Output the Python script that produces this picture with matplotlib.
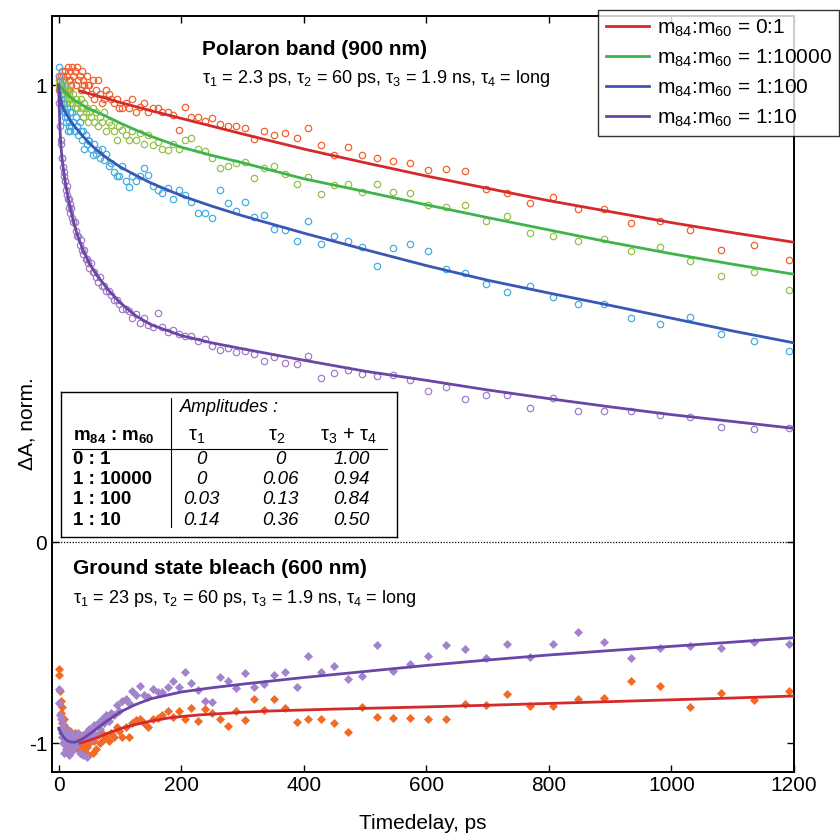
import numpy as np
import matplotlib
matplotlib.use('Agg')
import matplotlib.pyplot as plt

plt.rcParams['font.family'] = ['Liberation Sans', 'DejaVu Sans']
plt.rcParams['mathtext.fontset'] = 'custom'
plt.rcParams['mathtext.rm'] = 'Liberation Sans'
plt.rcParams['mathtext.it'] = 'Liberation Sans:italic'
plt.rcParams['mathtext.bf'] = 'Liberation Sans:bold'
plt.rcParams['axes.unicode_minus'] = False

# ---------------- data ----------------
ratios = ['0:1', '1:10000', '1:100', '1:10']

time_ps = [
    0, 1, 2, 3, 4, 5, 6, 7, 8, 9, 10,
    11, 12, 13, 14, 15, 16, 17, 18, 19, 20,
    22, 24, 26, 28, 30, 32, 34, 36, 38, 40, 42, 44, 46, 48,
    50.0, 52.5, 55.1, 57.9, 60.8, 63.8, 67.0, 70.4, 73.9, 77.6,
    81.4, 85.5, 89.8, 94.3, 99.0, 103.9, 109.1, 114.6, 120.3, 126.4,
    132.7, 139.3, 146.3, 153.6, 161.3, 169.3, 177.8, 186.7, 196.0, 205.8,
    216.1, 226.9, 238.3, 250.2, 262.7, 275.8, 289.6, 304.1, 319.3, 335.3,
    352.0, 369.6, 388.1, 407.5, 427.9, 449.3, 471.8, 495.4, 520.1, 546.1,
    573.4, 602.1, 632.2, 663.8, 697.0, 731.8, 768.4, 806.9, 847.2, 889.6,
    934.0, 980.7, 1029.8, 1081.3, 1135.3, 1192.1]

# Polaron band (900 nm) data points
pol_0_1 = [
    1.00, 0.99, 1.01, 1.02, 0.99, 1.03, 1.00, 1.02, 0.98, 1.01, 1.00,
    1.03, 1.00, 0.99, 1.02, 1.04, 1.01, 0.99, 1.03, 1.01, 1.00,
    1.04, 1.02, 1.03, 1.00, 1.04, 1.01, 1.02, 0.99, 1.03, 1.01, 1.00, 0.99, 1.02, 1.00,
    1.00, 0.98, 1.01, 0.97, 0.99, 1.01, 0.98, 0.96, 0.97, 0.99,
    0.98, 0.97, 0.96, 0.97, 0.95, 0.95, 0.96, 0.95, 0.97, 0.94,
    0.953, 0.961, 0.940, 0.950, 0.950, 0.940, 0.942, 0.935, 0.902, 0.952,
    0.930, 0.930, 0.922, 0.928, 0.915, 0.910, 0.910, 0.907, 0.882, 0.900,
    0.891, 0.896, 0.884, 0.907, 0.868, 0.847, 0.864, 0.847, 0.840, 0.834,
    0.829, 0.814, 0.816, 0.811, 0.773, 0.764, 0.743, 0.755, 0.729, 0.729,
    0.698, 0.702, 0.683, 0.640, 0.649, 0.618]
pol_1_10000 = [
    1.00, 1.01, 0.99, 1.00, 0.98, 1.01, 0.99, 0.97, 1.00, 0.98, 0.99,
    0.97, 1.00, 0.98, 0.96, 0.99, 0.97, 0.98, 0.96, 0.99, 0.97,
    0.96, 0.98, 0.95, 0.97, 0.95, 0.96, 0.94, 0.97, 0.95, 0.93, 0.96, 0.94, 0.95, 0.92,
    0.94, 0.93, 0.95, 0.92, 0.94, 0.91, 0.93, 0.92, 0.94, 0.90,
    0.92, 0.913, 0.90, 0.88, 0.91, 0.902, 0.89, 0.88, 0.90, 0.88,
    0.895, 0.87, 0.89, 0.869, 0.875, 0.86, 0.858, 0.87, 0.86, 0.88,
    0.884, 0.86, 0.855, 0.84, 0.818, 0.822, 0.829, 0.831, 0.796, 0.818,
    0.823, 0.805, 0.784, 0.799, 0.761, 0.782, 0.784, 0.767, 0.783, 0.765,
    0.764, 0.738, 0.733, 0.738, 0.702, 0.714, 0.677, 0.669, 0.658, 0.663,
    0.638, 0.645, 0.616, 0.583, 0.590, 0.552]
pol_1_100 = [
    1.04, 1.02, 0.99, 1.00, 0.97, 0.98, 0.95, 0.96, 0.94, 0.95, 0.93,
    0.94, 0.92, 0.95, 0.93, 0.90, 0.92, 0.91, 0.94, 0.90, 0.91,
    0.94, 0.92, 0.90, 0.93, 0.91, 0.89, 0.92, 0.90, 0.88, 0.90, 0.86, 0.89, 0.87, 0.88,
    0.877, 0.86, 0.848, 0.87, 0.85, 0.858, 0.84, 0.86, 0.837, 0.85,
    0.822, 0.83, 0.81, 0.80, 0.800, 0.822, 0.79, 0.778, 0.80, 0.79,
    0.80, 0.818, 0.804, 0.78, 0.77, 0.764, 0.775, 0.751, 0.77, 0.760,
    0.745, 0.72, 0.72, 0.709, 0.771, 0.743, 0.725, 0.745, 0.711, 0.715,
    0.685, 0.682, 0.658, 0.702, 0.653, 0.670, 0.659, 0.645, 0.605, 0.643,
    0.653, 0.637, 0.597, 0.589, 0.565, 0.548, 0.561, 0.536, 0.522, 0.520,
    0.491, 0.478, 0.493, 0.456, 0.440, 0.419]
pol_1_10 = [
    1.02, 0.96, 0.91, 0.88, 0.87, 0.84, 0.84, 0.82, 0.81, 0.80, 0.79,
    0.79, 0.77, 0.78, 0.76, 0.75, 0.75, 0.73, 0.74, 0.72, 0.73,
    0.71, 0.70, 0.70, 0.68, 0.67, 0.67, 0.65, 0.66, 0.64, 0.63, 0.64, 0.62, 0.62, 0.61,
    0.60, 0.61, 0.59, 0.59, 0.58, 0.57, 0.58, 0.56, 0.56, 0.55,
    0.55, 0.54, 0.53, 0.53, 0.52, 0.51, 0.51, 0.505, 0.49, 0.50,
    0.48, 0.49, 0.475, 0.47, 0.501, 0.47, 0.46, 0.465, 0.455, 0.45,
    0.45, 0.44, 0.445, 0.43, 0.421, 0.425, 0.417, 0.419, 0.412, 0.397,
    0.406, 0.393, 0.390, 0.408, 0.360, 0.370, 0.377, 0.368, 0.364, 0.366,
    0.354, 0.330, 0.340, 0.314, 0.321, 0.323, 0.294, 0.315, 0.286, 0.286,
    0.286, 0.278, 0.274, 0.252, 0.247, 0.249]

# Ground state bleach (600 nm) data points
gsb_0_1 = [
    -0.63, -0.66, -0.74, -0.79, -0.85, -0.82, -0.90, -0.93, -0.88, -0.95, -0.92,
    -0.97, -0.94, -0.99, -0.96, -1.02, -0.95, -0.98, -1.00, -0.94, -0.97,
    -0.96, -1.00, -0.95, -1.02, -0.97, -1.03, -0.98, -1.05, -1.01, -0.96, -1.04, -0.99, -1.02, -1.06,
    -1.00, -0.97, -1.05, -0.99, -1.03, -0.96, -1.00, -0.95, -0.98, -0.97,
    -0.99, -0.95, -0.97, -0.92, -0.94, -0.97, -0.92, -0.97, -0.90, -0.884,
    -0.881, -0.90, -0.917, -0.88, -0.876, -0.86, -0.838, -0.87, -0.838, -0.881,
    -0.826, -0.887, -0.831, -0.848, -0.881, -0.914, -0.838, -0.884, -0.780, -0.834,
    -0.780, -0.826, -0.892, -0.879, -0.879, -0.897, -0.946, -0.818, -0.867, -0.872,
    -0.876, -0.881, -0.881, -0.805, -0.810, -0.755, -0.813, -0.815, -0.778, -0.776,
    -0.690, -0.716, -0.818, -0.748, -0.785, -0.740]
gsb_1_10 = [
    -0.73, -0.80, -0.86, -0.93, -0.88, -0.97, -0.95, -1.00, -0.91, -1.05, -0.96,
    -0.99, -1.03, -0.96, -1.01, -0.94, -0.98, -1.06, -0.97, -1.00, -0.95,
    -1.04, -0.98, -1.02, -0.96, -1.00, -0.95, -1.05, -0.99, -0.97, -1.06, -0.98, -0.95, -1.07, -0.96,
    -0.93, -0.98, -0.95, -0.91, -0.96, -0.90, -0.93, -0.88, -0.90, -0.86,
    -0.89, -0.85, -0.86, -0.81, -0.84, -0.79, -0.78, -0.80, -0.74, -0.76,
    -0.713, -0.76, -0.768, -0.73, -0.747, -0.747, -0.72, -0.69, -0.718, -0.644,
    -0.70, -0.735, -0.788, -0.793, -0.672, -0.69, -0.726, -0.652, -0.721, -0.706,
    -0.660, -0.647, -0.721, -0.566, -0.647, -0.615, -0.682, -0.665, -0.511, -0.639,
    -0.607, -0.566, -0.511, -0.531, -0.577, -0.508, -0.572, -0.508, -0.445, -0.498,
    -0.577, -0.524, -0.516, -0.524, -0.498, -0.506]

# fitted curves
fit_t = [0, 1, 2, 3, 4, 5, 6, 8, 10, 12, 15, 20, 25, 30, 40, 50, 60, 80, 100,
         125, 150, 200, 250, 300, 400, 500, 600, 700, 800, 900, 1000, 1100, 1200]
fit_red_t = [35, 50, 75, 100, 150, 200, 300, 400, 500, 600, 700, 800, 900,
             1000, 1100, 1200]
fit_pol_0_1 = [0.987, 0.981, 0.972, 0.962, 0.944, 0.927, 0.893, 0.860, 0.830,
               0.801, 0.774, 0.747, 0.723, 0.699, 0.677, 0.656]
fit_pol_1_10000 = [1.0, 0.999, 0.998, 0.996, 0.995, 0.993, 0.992, 0.989, 0.986,
                   0.983, 0.979, 0.972, 0.967, 0.963, 0.955, 0.948, 0.942, 0.930,
                   0.917, 0.902, 0.888, 0.864, 0.846, 0.830, 0.795, 0.767, 0.738,
                   0.710, 0.683, 0.656, 0.631, 0.608, 0.586]
fit_pol_1_100 = [1.0, 0.988, 0.977, 0.969, 0.963, 0.958, 0.954, 0.947, 0.942,
                 0.937, 0.931, 0.920, 0.911, 0.903, 0.887, 0.873, 0.860, 0.839,
                 0.821, 0.803, 0.786, 0.758, 0.735, 0.714, 0.676, 0.640, 0.605,
                 0.573, 0.545, 0.518, 0.490, 0.462, 0.436]
fit_pol_1_10 = [1.0, 0.945, 0.905, 0.878, 0.860, 0.845, 0.833, 0.812, 0.793,
                0.777, 0.756, 0.724, 0.697, 0.674, 0.637, 0.610, 0.588, 0.553,
                0.524, 0.496, 0.476, 0.452, 0.436, 0.423, 0.398, 0.374, 0.354,
                0.333, 0.314, 0.296, 0.279, 0.264, 0.249]
fit_gsb_red_t = [35, 50, 67, 80, 100, 122, 150, 176, 200, 230, 300, 340, 450,
                 590, 700, 800, 900, 1000, 1100, 1200]
fit_gsb_0_1 = [-1.0, -0.985, -0.967, -0.950, -0.928, -0.909, -0.890, -0.876,
               -0.867, -0.859, -0.846, -0.840, -0.830, -0.820, -0.811, -0.802,
               -0.793, -0.784, -0.775, -0.765]
fit_gsb_1_10 = [-0.925, -0.932, -0.939, -0.945, -0.951, -0.956, -0.961, -0.970,
                -0.977, -0.983, -0.989, -0.994, -0.995, -0.991, -0.976, -0.955,
                -0.932, -0.886, -0.845, -0.808, -0.779, -0.745, -0.724, -0.706,
                -0.673, -0.643, -0.613, -0.586, -0.561, -0.539, -0.518, -0.497,
                -0.475]

# amplitude table
table_ratios = ['0 : 1', '1 : 10000', '1 : 100', '1 : 10']
amp_tau1 = ['0', '0', '0.03', '0.14']
amp_tau2 = ['0', '0.06', '0.13', '0.36']
amp_tau34 = ['1.00', '0.94', '0.84', '0.50']

x_ticks = [0, 200, 400, 600, 800, 1000, 1200]
y_ticks = [-1, 0, 1]

# ---------------- styling ----------------
fit_colors = ['#d52a2c', '#3fb44b', '#3857b6', '#6a46a6']
pt_colors = ['#f2612e', '#93c247', '#45aee2', '#a27cc6']
gsb_pt_colors = ['#f26a24', '#a283cc']

K = 201.0 / 457.0


def fwd(y):
    y = np.asarray(y, dtype=float)
    return np.where(y >= 0, y, y * K)


def inv(y):
    y = np.asarray(y, dtype=float)
    return np.where(y >= 0, y, y / K)


fig = plt.figure(figsize=(8.4, 8.38), dpi=100)
ax = fig.add_axes([52 / 840, 1 - 772 / 838, 742 / 840, 756 / 838])
ax.set_yscale('function', functions=(fwd, inv))

t = np.array(time_ps)
for vals, c in zip([pol_0_1, pol_1_10000, pol_1_100, pol_1_10], pt_colors):
    ax.plot(t, vals, 'o', mfc='none', mec=c, ms=4.6, mew=0.9, zorder=2)
for vals, c in zip([gsb_0_1, gsb_1_10], gsb_pt_colors):
    ax.plot(t, vals, 'D', mfc=c, mec=c, ms=3.8, mew=0.5, zorder=2)

l1, = ax.plot(fit_red_t, fit_pol_0_1, color=fit_colors[0], lw=2.0, zorder=3)
l2, = ax.plot(fit_t, fit_pol_1_10000, color=fit_colors[1], lw=2.0, zorder=3)
l3, = ax.plot(fit_t, fit_pol_1_100, color=fit_colors[2], lw=2.0, zorder=3)
l4, = ax.plot(fit_t, fit_pol_1_10, color=fit_colors[3], lw=2.0, zorder=3)
ax.plot(fit_gsb_red_t, fit_gsb_0_1, color=fit_colors[0], lw=2.0, zorder=3)
ax.plot(fit_t, fit_gsb_1_10, color=fit_colors[3], lw=2.0, zorder=3)

ax.axhline(0, color='k', lw=0.9, ls=(0, (1, 1.3)), zorder=1)

ax.set_xlim(-11, 1200)
ax.set_ylim(-1.143, 1.151)
ax.set_xticks(x_ticks)
ax.set_xticklabels([str(v) for v in x_ticks])
ax.set_yticks(y_ticks)
ax.set_yticklabels([str(v) for v in y_ticks])
ax.minorticks_off()
ax.tick_params(direction='in', top=True, right=True, length=5, width=1.0,
               labelsize=15)
ax.tick_params(axis='x', pad=3)
ax.tick_params(axis='y', pad=3.5)
for s in ax.spines.values():
    s.set_linewidth(1.4)

ax.set_xlabel('Timedelay, ps', fontsize=15)
ax.xaxis.set_label_coords(0.5, -0.056)
ax.set_ylabel('ΔA, norm.', fontsize=15)
ax.yaxis.set_label_coords(-0.021, 0.461)

ax.text(0.2017, 0.948, 'Polaron band (900 nm)', transform=ax.transAxes,
        fontsize=15, fontweight='bold', va='baseline', ha='left')
ax.text(0.2017, 0.911,
        'τ$_1$ = 2.3 ps, τ$_2$ = 60 ps, τ$_3$ = 1.9 ns, τ$_4$ = long',
        transform=ax.transAxes, fontsize=13, va='baseline', ha='left')
ax.text(0.0279, 0.262, 'Ground state bleach (600 nm)', transform=ax.transAxes,
        fontsize=15, fontweight='bold', va='baseline', ha='left')
ax.text(0.0279, 0.223,
        'τ$_1$ = 23 ps, τ$_2$ = 60 ps, τ$_3$ = 1.9 ns, τ$_4$ = long',
        transform=ax.transAxes, fontsize=13, va='baseline', ha='left')

# legend
labels = ['m$_{84}$:m$_{60}$ = ' + r for r in ratios]
leg = fig.legend([l1, l2, l3, l4], labels, loc='upper right',
                 bbox_to_anchor=(839 / 840, 1 - 10 / 838),
                 bbox_transform=fig.transFigure, frameon=True, fancybox=False,
                 edgecolor='k', fontsize=15, handlelength=2.1,
                 handletextpad=0.35, labelspacing=0.42, borderpad=0.35,
                 borderaxespad=0)
leg.get_frame().set_linewidth(1.0)
leg.set_zorder(10)

# amplitude table inset
tab = ax.inset_axes([0.0121, 0.3112, 0.4528, 0.1918])
tab.set_xlim(0, 1)
tab.set_ylim(0, 1)
tab.set_xticks([])
tab.set_yticks([])
tab.set_facecolor('white')
for s in tab.spines.values():
    s.set_linewidth(1.0)
tab.axvline(0.3265, ymin=0.067, ymax=0.957, color='k', lw=0.8)
tab.axhline(0.605, xmin=0.032, xmax=0.969, color='k', lw=0.8)
tab.text(0.354, 0.888, 'Amplitudes :', fontsize=13, style='italic',
         va='center', ha='left')
tab.text(0.0348, 0.69, r'm$_{\mathbf{84}}$ : m$_{\mathbf{60}}$', fontsize=13.5,
         fontweight='bold', va='center', ha='left')
tab.text(0.404, 0.69, 'τ$_1$', fontsize=14.5, va='center', ha='center')
tab.text(0.642, 0.69, 'τ$_2$', fontsize=14.5, va='center', ha='center')
tab.text(0.855, 0.69, 'τ$_3$ + τ$_4$', fontsize=14.5, va='center', ha='center')
row_v = [0.534, 0.393, 0.258, 0.115]
for v, r, a1, a2, a3 in zip(row_v, table_ratios, amp_tau1, amp_tau2, amp_tau34):
    tab.text(0.0348, v, r, fontsize=13.5, fontweight='bold', va='center', ha='left')
    tab.text(0.419, v, a1, fontsize=13.5, style='italic', va='center', ha='center')
    tab.text(0.652, v, a2, fontsize=13.5, style='italic', va='center', ha='center')
    tab.text(0.865, v, a3, fontsize=13.5, style='italic', va='center', ha='center')

fig.savefig('out.png', dpi=100, facecolor='white')
